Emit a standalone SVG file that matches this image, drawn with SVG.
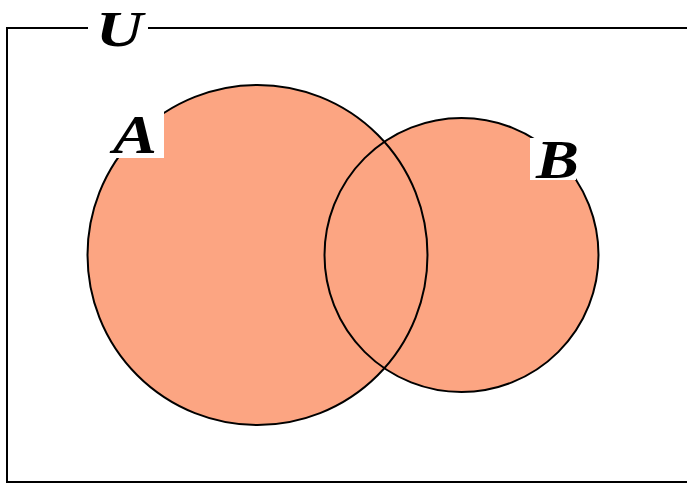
<svg xmlns="http://www.w3.org/2000/svg" width="687" height="484" viewBox="0 0 687 484">
<style>
.set{fill:#fca582;stroke:none}
.edge{fill:none;stroke:#000;stroke-width:2}
.lbl{font-family:"Liberation Serif","DejaVu Serif",serif;font-weight:bold;font-style:italic;font-size:54px;fill:#000}
.bg{fill:#fff}
</style>
<rect width="687" height="484" fill="#fff"/>
<g id="universe">
<path class="edge" d="M688,28 H7 V482 H688"/>
<rect class="bg" x="88" y="12" width="60" height="34"/>
<text class="lbl" x="96" y="46" textLength="47" lengthAdjust="spacingAndGlyphs" style="font-size:50px">U</text>
</g>
<g id="fills">
<circle class="set" cx="257.5" cy="255" r="170"/>
<circle class="set" cx="461.5" cy="255" r="137"/>
</g>
<g id="setA">
<circle class="edge" cx="257.5" cy="255" r="170"/>
<rect class="bg" x="114" y="107" width="50" height="51"/>
<text class="lbl" x="113" y="153" textLength="44" lengthAdjust="spacingAndGlyphs">A</text>
</g>
<g id="setB">
<circle class="edge" cx="461.5" cy="255" r="137"/>
<rect class="bg" x="530" y="138" width="46" height="42"/>
<text class="lbl" x="536" y="178" textLength="43" lengthAdjust="spacingAndGlyphs">B</text>
</g>
</svg>
